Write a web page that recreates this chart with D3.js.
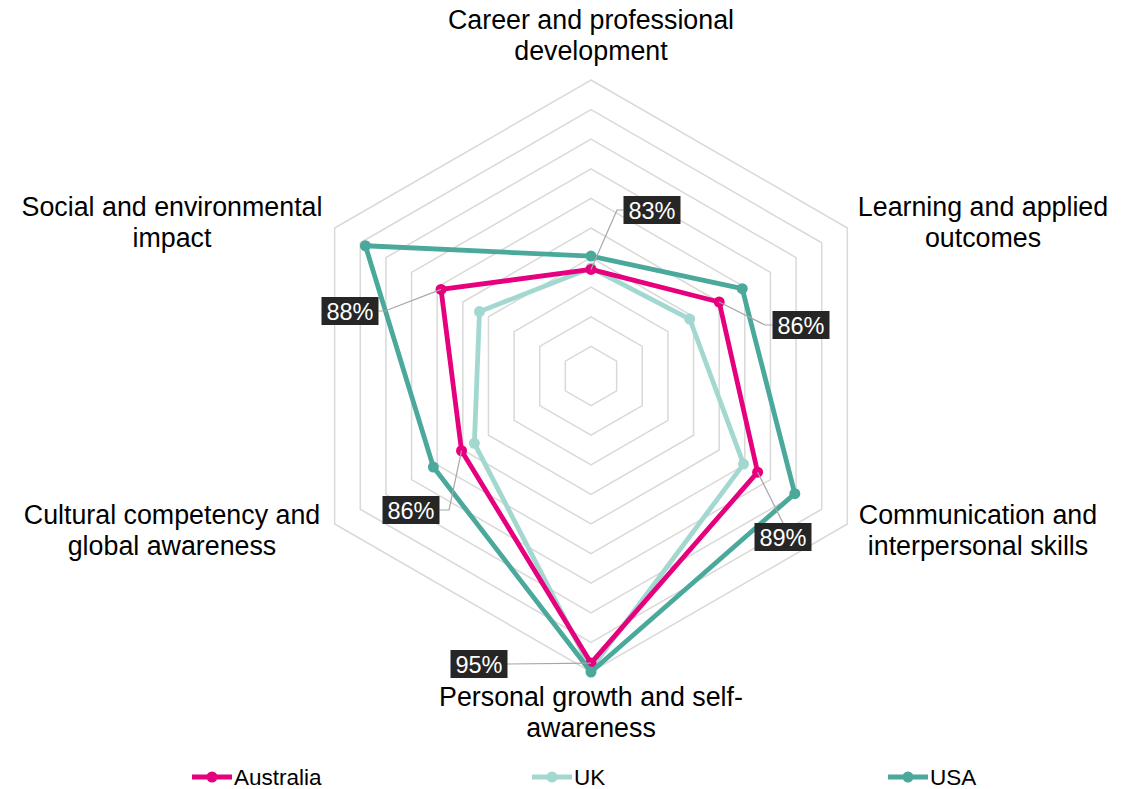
<!DOCTYPE html>
<html>
<head>
<meta charset="utf-8">
<script src="https://cdn.jsdelivr.net/npm/d3@7"></script>
<style>
	body { margin: 0; background: #fff; }
	text { font-family: "Liberation Sans", Arial, Helvetica, sans-serif; }
</style>
</head>
<body>
<div id="chart"></div>
<script>
const categories = [
	["Career and professional", "development"],
	["Learning and applied", "outcomes"],
	["Communication and", "interpersonal skills"],
	["Personal growth and self-", "awareness"],
	["Cultural competency and", "global awareness"],
	["Social and environmental", "impact"]
];
const seriesNames = ["Australia", "UK", "USA"];
const australia = [83.2, 86.0, 89.0, 95.4, 86.1, 87.7];
const uk = [83.3, 83.7, 87.9, 95.8, 85.1, 84.7];
const usa = [84.1, 87.8, 91.9, 96.0, 88.3, 93.6];
const ringTicks = [78, 80, 82, 84, 86, 88, 90, 92, 94, 96];

const width = 1135,
	height = 789;
const cx = 591,
	cy = 376,
	R = 296;
const colors = ["#e6007e", "#a3d8d1", "#4aa99b"];

// where each category label sits (anchor, first baseline)
const labelPos = [
	{ x: 591, y: 29, anchor: "middle" },
	{ x: 983, y: 216, anchor: "middle" },
	{ x: 978, y: 524, anchor: "middle" },
	{ x: 591, y: 706, anchor: "middle" },
	{ x: 172, y: 524, anchor: "middle" },
	{ x: 172, y: 216, anchor: "middle" }
];
// callout boxes for the Australia values: box centre + elbow of leader line
const callouts = [
	{ bx: 652, by: 210, ex: 617, ey: 210, side: "left" },
	{ bx: 801, by: 325, ex: 765, ey: 325, side: "left" },
	{ bx: 783, by: 537, ex: 783, ey: 523, side: "top" },
	{ bx: 479, by: 664, ex: 507, ey: 664, side: "right" },
	{ bx: 411, by: 510, ex: 449, ey: 510, side: "right" },
	{ bx: 350, by: 311, ex: 385, ey: 311, side: "right" }
];

const svg = d3
	.select("#chart")
	.append("svg")
	.attr("width", width)
	.attr("height", height);

const r = d3.scaleLinear().domain([76, 96]).range([0, R]);
const angle = d3
	.scaleLinear()
	.domain([0, categories.length])
	.range([-Math.PI / 2, (3 * Math.PI) / 2]);

function pt(i, v) {
	const a = angle(i);
	return [cx + r(v) * Math.cos(a), cy + r(v) * Math.sin(a)];
}

// grid rings
const ringLine = d3.line().curve(d3.curveLinearClosed);
svg
	.append("g")
	.selectAll("path")
	.data(ringTicks)
	.enter()
	.append("path")
	.attr("d", (t) => ringLine(categories.map((c, i) => pt(i, t))))
	.attr("fill", "none")
	.attr("stroke", "#d9d9d9")
	.attr("stroke-width", 1.5);

// category labels
categories.forEach((lines, i) => {
	const p = labelPos[i];
	const t = svg
		.append("text")
		.attr("text-anchor", p.anchor)
		.attr("font-size", "26.8px")
		.attr("fill", "#000");
	lines.forEach((l, k) => {
		t.append("tspan")
			.attr("x", p.x)
			.attr("y", p.y + k * 31)
			.text(l);
	});
});

// series
const seriesData = [australia, uk, usa];
const line = d3.line().curve(d3.curveLinearClosed);

const drawOrder = [1, 0, 2];
drawOrder.forEach((s) => {
	const g = svg.append("g");
	const pts = seriesData[s].map((v, i) => pt(i, v));
	g.append("path")
		.attr("d", line(pts))
		.attr("fill", "none")
		.attr("stroke", colors[s])
		.attr("stroke-width", 4.8)
		.attr("stroke-linejoin", "round");
	g.selectAll("circle")
		.data(pts)
		.enter()
		.append("circle")
		.attr("cx", (d) => d[0])
		.attr("cy", (d) => d[1])
		.attr("r", 5.5)
		.attr("fill", colors[s]);
});

// callouts for Australia
const boxW = 57,
	boxH = 28;
australia.forEach((v, i) => {
	const p = pt(i, v);
	const c = callouts[i];
	let end;
	if (c.side === "left") end = [c.bx - boxW / 2, c.ey];
	else if (c.side === "right") end = [c.bx + boxW / 2, c.ey];
	else end = [c.ex, c.by - boxH / 2];
	svg
		.append("polyline")
		.attr("points", [p, [c.ex, c.ey], end].map((d) => d.join(",")).join(" "))
		.attr("fill", "none")
		.attr("stroke", "#a6a6a6")
		.attr("stroke-width", 1.2);
	svg
		.append("rect")
		.attr("x", c.bx - boxW / 2)
		.attr("y", c.by - boxH / 2)
		.attr("width", boxW)
		.attr("height", boxH)
		.attr("fill", "#262626");
	svg
		.append("text")
		.attr("x", c.bx)
		.attr("y", c.by + 8.5)
		.attr("text-anchor", "middle")
		.attr("font-size", "23.5px")
		.attr("fill", "#fff")
		.text(Math.round(v) + "%");
});

// legend
const legendX = [192, 532, 888];
const legendY = 777;
seriesNames.forEach((name, s) => {
	const g = svg.append("g").attr("transform", `translate(${legendX[s]},${legendY})`);
	g.append("line")
		.attr("x1", 0)
		.attr("x2", 40)
		.attr("stroke", colors[s])
		.attr("stroke-width", 4.8);
	g.append("circle").attr("cx", 20).attr("r", 5.5).attr("fill", colors[s]);
	g.append("text")
		.attr("x", 42)
		.attr("y", 7.5)
		.attr("font-size", "22.5px")
		.text(name);
});
</script>
</body>
</html>
